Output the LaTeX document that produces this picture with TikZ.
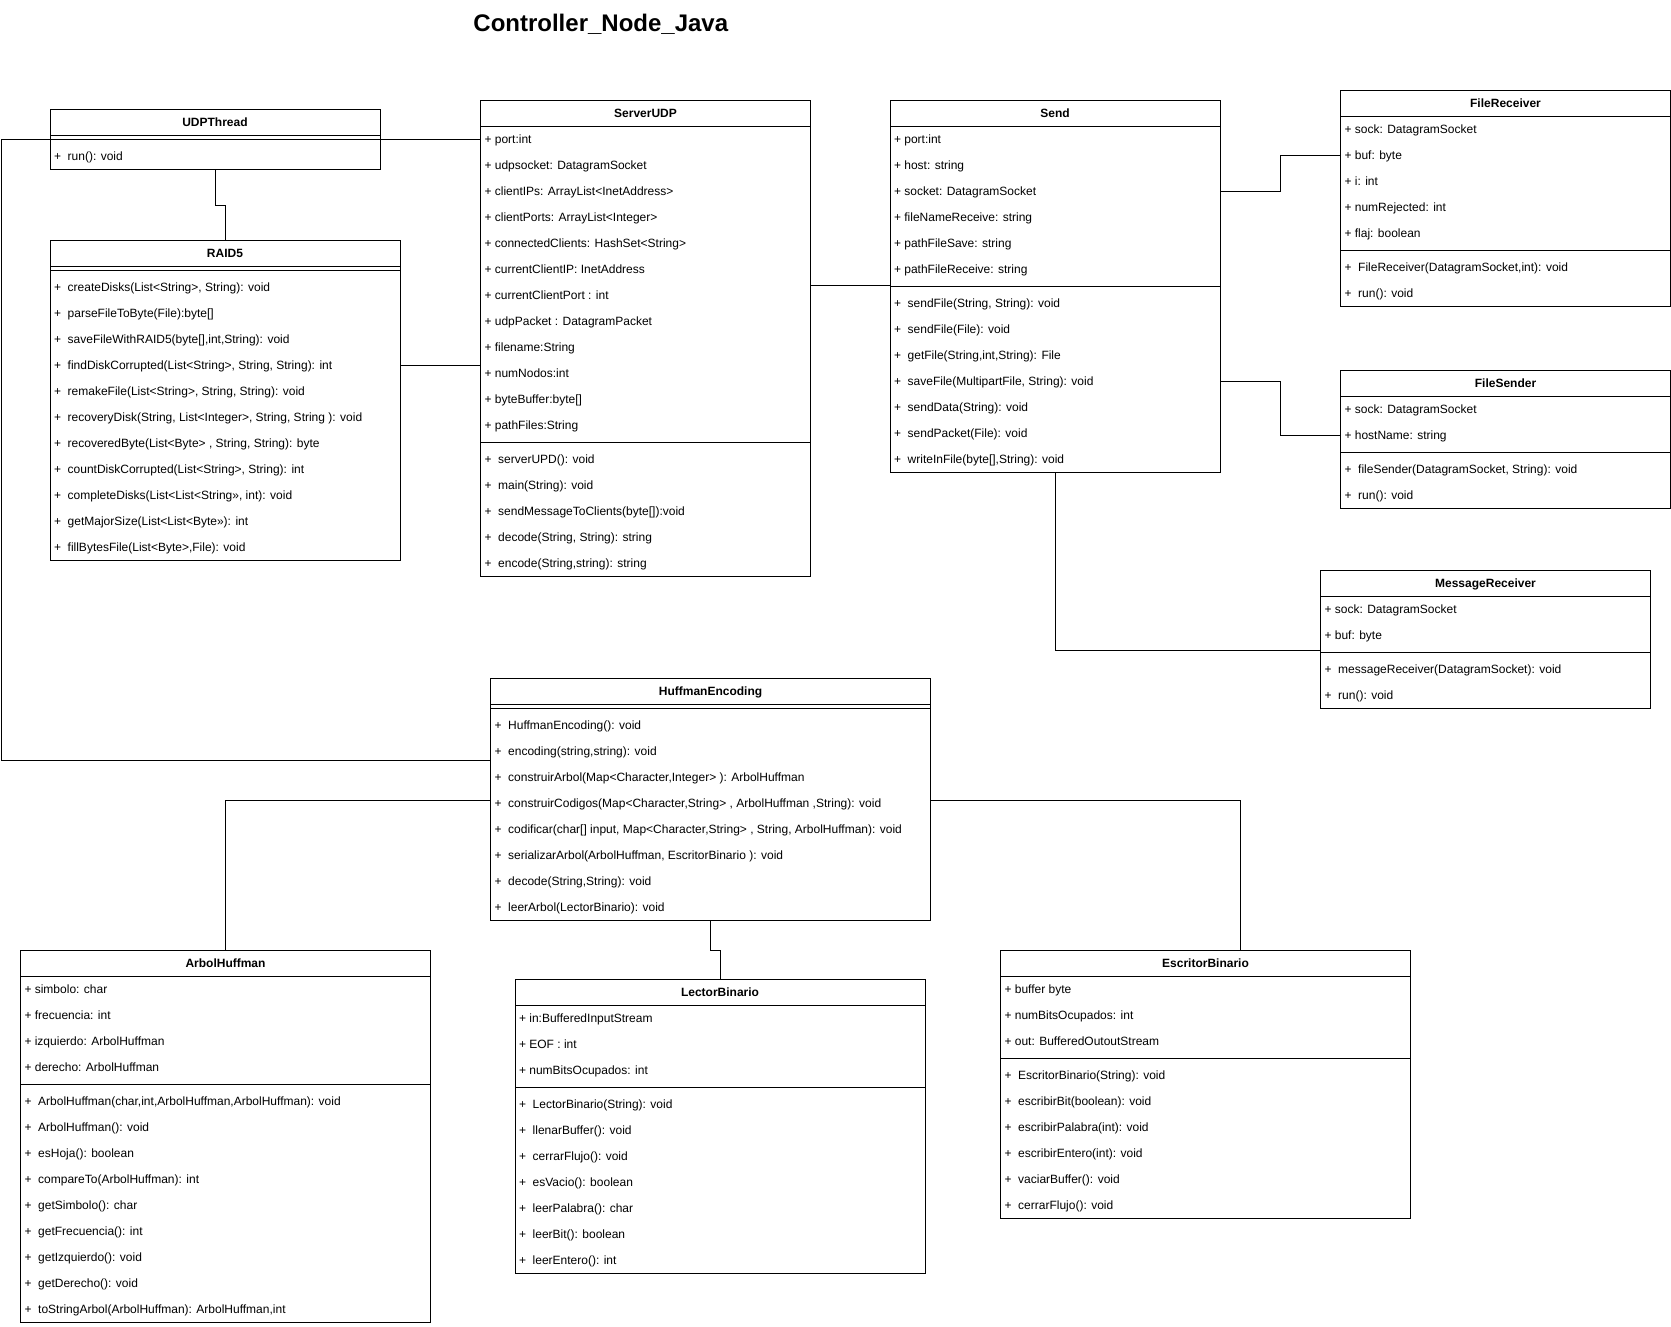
\documentclass[tikz,border=0pt]{standalone}
\usepackage{fontspec}
\setmainfont{Liberation Sans}
\usetikzlibrary{calc}
\tikzset{
  classbox/.style={draw=black, line width=1pt, inner sep=0pt, outer sep=0pt, fill=white},
  classline/.style={draw=black, line width=1pt},
  conn/.style={draw=black, line width=1pt},
  rowtext/.style={inner sep=0pt, outer sep=0pt, font=\fontsize{12}{14}\selectfont, text=black},
  titletext/.style={inner sep=0pt, outer sep=0pt, font=\fontsize{12}{14}\selectfont\bfseries, text=black},
  diagtitle/.style={inner sep=0pt, outer sep=0pt, font=\fontsize{24}{28}\selectfont\bfseries, text=black}
}
% #1 name, #2 x, #3 y top, #4 width, #5 nattr, #6 nmeth, #7 title, #8 attrs, #9 meths
\newcommand\UmlClass[9]{%
  \pgfmathsetmacro\umlH{26+26*#5+8+26*#6}%
  \pgfmathsetmacro\umlCx{#2+#4/2}%
  \node[classbox, minimum width=#4pt, minimum height=\umlH pt, anchor=north west] (#1) at (#2,#3) {};
  \node[titletext, anchor=base] (#1-title) at (\umlCx,#3+17) {#7};
  \draw[classline] (#1.north west |- {0,#3+26}) -- (#1.north east |- {0,#3+26});
  \coordinate (#1-sep) at (#2,#3+30+26*#5);
  \draw[classline] (#1-sep) -- (#1.east |- #1-sep);
  \ifnum#5>0
    \foreach[count=\i] \t in {#8} {
      \coordinate (#1-a\i) at (#2,#3+13+26*\i);
      \node[rowtext, anchor=base west] (#1-at\i) at (#2+4,#3+17+26*\i) {+ \t};
    }
  \fi
  \foreach[count=\j] \t in {#9} {
    \coordinate (#1-m\j) at (#2,#3+21+26*#5+26*\j);
    \node[rowtext, anchor=base west] (#1-mt\j) at (#2+4,#3+25+26*#5+26*\j) {+\ \ \t};
  }
}
\begin{document}
\begin{tikzpicture}[x=1pt,y=-1pt]
\fill[white] (0,0) rectangle (1671,1326);
\useasboundingbox (0,0) rectangle (1671,1326);

\node[diagtitle, anchor=base] (title) at (600.8,31.7) {Controller\_Node\_Java};

\UmlClass{UDPThread}{50}{109.5}{330}{0}{1}{UDPThread}{}{{run(): void}}

\UmlClass{RAID5}{50}{240.5}{350}{0}{11}{RAID5}{}{%
{createDisks(List<String>, String): void},%
{parseFileToByte(File):byte[]},%
{saveFileWithRAID5(byte[],int,String): void},%
{findDiskCorrupted(List<String>, String, String): int},%
{remakeFile(List<String>, String, String): void},%
{recoveryDisk(String, List<Integer>, String, String ): void},%
{recoveredByte(List<Byte> , String, String): byte},%
{countDiskCorrupted(List<String>, String): int},%
{completeDisks(List<List<String>>, int): void},%
{getMajorSize(List<List<Byte>>): int},%
{fillBytesFile(List<Byte>,File): void}}

\UmlClass{ServerUDP}{480.5}{100.5}{330}{12}{5}{ServerUDP}{%
{port:int},%
{udpsocket: DatagramSocket},%
{clientIPs: ArrayList<InetAddress>},%
{clientPorts: ArrayList<Integer>},%
{connectedClients: HashSet<String>},%
{currentClientIP: InetAddress},%
{currentClientPort : int},%
{udpPacket : DatagramPacket},%
{filename:String},%
{numNodos:int},%
{byteBuffer:byte[]},%
{pathFiles:String}}{%
{serverUPD(): void},%
{main(String): void},%
{sendMessageToClients(byte[]):void},%
{decode(String, String): string},%
{encode(String,string): string}}

\UmlClass{Send}{890}{100.5}{330}{6}{7}{Send}{%
{port:int},%
{host: string},%
{socket: DatagramSocket},%
{fileNameReceive: string},%
{pathFileSave: string},%
{pathFileReceive: string}}{%
{sendFile(String, String): void},%
{sendFile(File): void},%
{getFile(String,int,String): File},%
{saveFile(MultipartFile, String): void},%
{sendData(String): void},%
{sendPacket(File): void},%
{writeInFile(byte[],String): void}}

\UmlClass{FileReceiver}{1340.5}{90.5}{330}{5}{2}{FileReceiver}{%
{sock: DatagramSocket},%
{buf: byte},%
{i: int},%
{numRejected: int},%
{flaj: boolean}}{%
{FileReceiver(DatagramSocket,int): void},%
{run(): void}}

\UmlClass{FileSender}{1340.5}{370.5}{330}{2}{2}{FileSender}{%
{sock: DatagramSocket},%
{hostName: string}}{%
{fileSender(DatagramSocket, String): void},%
{run(): void}}

\UmlClass{MessageReceiver}{1320.5}{570.5}{330}{2}{2}{MessageReceiver}{%
{sock: DatagramSocket},%
{buf: byte}}{%
{messageReceiver(DatagramSocket): void},%
{run(): void}}

\UmlClass{HuffmanEncoding}{490.5}{678.5}{440}{0}{8}{HuffmanEncoding}{}{%
{HuffmanEncoding(): void},%
{encoding(string,string): void},%
{construirArbol(Map<Character,Integer> ): ArbolHuffman},%
{construirCodigos(Map<Character,String> , ArbolHuffman ,String): void},%
{codificar(char[] input, Map<Character,String> , String, ArbolHuffman): void},%
{serializarArbol(ArbolHuffman, EscritorBinario ): void},%
{decode(String,String): void},%
{leerArbol(LectorBinario): void}}

\UmlClass{ArbolHuffman}{20.5}{950.5}{410}{4}{9}{ArbolHuffman}{%
{simbolo: char},%
{frecuencia: int},%
{izquierdo: ArbolHuffman},%
{derecho: ArbolHuffman}}{%
{ArbolHuffman(char,int,ArbolHuffman,ArbolHuffman): void},%
{ArbolHuffman(): void},%
{esHoja(): boolean},%
{compareTo(ArbolHuffman): int},%
{getSimbolo(): char},%
{getFrecuencia(): int},%
{getIzquierdo(): void},%
{getDerecho(): void},%
{toStringArbol(ArbolHuffman): ArbolHuffman,int}}

\UmlClass{LectorBinario}{515}{979.5}{410}{3}{7}{LectorBinario}{%
{in:BufferedInputStream},%
{EOF : int},%
{numBitsOcupados: int}}{%
{LectorBinario(String): void},%
{llenarBuffer(): void},%
{cerrarFlujo(): void},%
{esVacio(): boolean},%
{leerPalabra(): char},%
{leerBit(): boolean},%
{leerEntero(): int}}

\UmlClass{EscritorBinario}{1000.5}{950.5}{410}{3}{6}{EscritorBinario}{%
{buffer byte},%
{numBitsOcupados: int},%
{out: BufferedOutoutStream}}{%
{EscritorBinario(String): void},%
{escribirBit(boolean): void},%
{escribirPalabra(int): void},%
{escribirEntero(int): void},%
{vaciarBuffer(): void},%
{cerrarFlujo(): void}}

% connectors
\coordinate (leftbus) at (1,760);
\draw[conn] (UDPThread.south) -- ++(0,35.5) -| (RAID5.north);
\draw[conn] (ServerUDP-a1) -| (leftbus) -- (leftbus -| HuffmanEncoding.west);
\draw[conn] (RAID5.east |- RAID5-m4) -- (ServerUDP.west |- RAID5-m4);
\draw[conn] ([yshift=1pt]ServerUDP.east |- Send-sep) -- ([yshift=1pt]Send-sep);
\draw[conn] (Send.east |- Send-a3) -- ++(60,0) |- (FileReceiver-a2);
\draw[conn] (Send.east |- Send-m4) -- ++(60,0) |- (FileSender-a2);
\draw[conn] (Send.south) |- ([yshift=2.5pt]MessageReceiver-sep);
\draw[conn] ([yshift=3.5pt]HuffmanEncoding-m4) -| (ArbolHuffman.north);
\draw[conn] ([yshift=3.5pt]HuffmanEncoding.east |- HuffmanEncoding-m4) -| ([xshift=34.5pt]EscritorBinario.north);
\draw[conn] (HuffmanEncoding.south) -- ++(0,29.5) -| (LectorBinario.north);
\end{tikzpicture}
\end{document}
